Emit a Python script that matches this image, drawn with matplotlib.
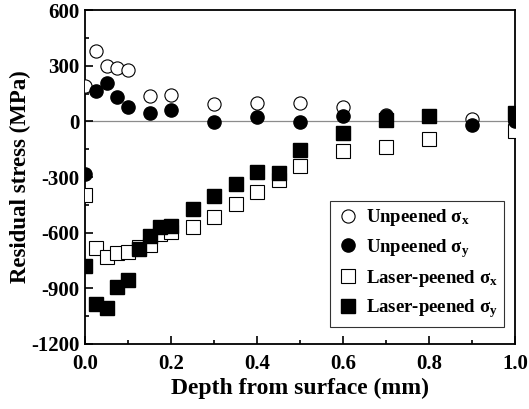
import matplotlib
matplotlib.use("Agg")
import matplotlib.pyplot as plt
from matplotlib.ticker import MultipleLocator

plt.rcParams['font.family'] = 'Liberation Serif'
plt.rcParams['font.weight'] = 'bold'
plt.rcParams['axes.unicode_minus'] = False
plt.rcParams['mathtext.fontset'] = 'custom'
plt.rcParams['mathtext.rm'] = 'Liberation Serif:bold'
plt.rcParams['mathtext.it'] = 'Liberation Serif:bold'

# unpeened
up_depth = [0.0, 0.025, 0.05, 0.075, 0.1, 0.15, 0.2, 0.3, 0.4, 0.5, 0.6, 0.7, 0.8, 0.9, 1.0]
up_sx = [190, 378, 300, 288, 278, 138, 143, 95, 100, 100, 80, 35, 30, 12, 0]
up_sy = [-285, 165, 208, 132, 78, 46, 62, -3, 24, -3, 30, 30, 30, -19, 0]

# laser-peened
lp_depth = [0.0, 0.025, 0.05, 0.075, 0.1, 0.125, 0.15, 0.175, 0.2, 0.25, 0.3, 0.35,
            0.4, 0.45, 0.5, 0.6, 0.7, 0.8, 1.0]
lp_sx = [-397, -684, -732, -711, -705, -678, -668, -605, -597, -570, -516, -446,
         -381, -316, -241, -159, -137, -95, -51]
lp_sy = [-781, -986, -1008, -895, -857, -689, -619, -570, -565, -473, -403, -338,
         -273, -278, -154, -62, 8, 30, 45]

fig, ax = plt.subplots(figsize=(5.29, 4.09), dpi=100)
fig.subplots_adjust(left=0.161, right=0.974, top=0.975, bottom=0.159)

ax.axhline(0, color='0.55', lw=0.9, zorder=1)

ms = 9.5
ax.plot(up_depth, up_sx, 'o', ms=ms, mfc='white', mec='black', mew=0.8,
        label=r'Unpeened σ$_\mathregular{x}$', zorder=3)
ax.plot(up_depth, up_sy, 'o', ms=ms, mfc='black', mec='black',
        label=r'Unpeened σ$_\mathregular{y}$', zorder=4)
ax.plot(lp_depth, lp_sx, 's', ms=ms, mfc='white', mec='black', mew=0.8,
        label=r'Laser-peened σ$_\mathregular{x}$', zorder=3)
ax.plot(lp_depth, lp_sy, 's', ms=ms, mfc='black', mec='black',
        label=r'Laser-peened σ$_\mathregular{y}$', zorder=4)

ax.set_xlim(0, 1.0)
ax.set_ylim(-1200, 600)
ax.xaxis.set_major_locator(MultipleLocator(0.2))
ax.xaxis.set_minor_locator(MultipleLocator(0.1))
ax.yaxis.set_major_locator(MultipleLocator(300))
ax.yaxis.set_minor_locator(MultipleLocator(150))
ax.tick_params(which='both', direction='in', labelsize=15, width=1.2)
ax.tick_params(which='major', length=6)
ax.tick_params(which='minor', length=3)
ax.tick_params(axis='x', pad=7)
ax.tick_params(axis='y', pad=4)
for s in ax.spines.values():
    s.set_linewidth(1.3)

ax.set_xlabel('Depth from surface (mm)', fontsize=17, fontweight='bold', labelpad=3)
ax.set_ylabel('Residual stress (MPa)', fontsize=16.5, fontweight='bold', labelpad=0)

leg = ax.legend(loc='lower right', bbox_to_anchor=(0.974, 0.051), borderaxespad=0,
                fontsize=13.5, frameon=True, fancybox=False, edgecolor='black',
                handletextpad=0.35, borderpad=0.35, labelspacing=0.45, handlelength=1.2)
leg.get_frame().set_linewidth(0.8)

fig.savefig('out.png', dpi=100)
